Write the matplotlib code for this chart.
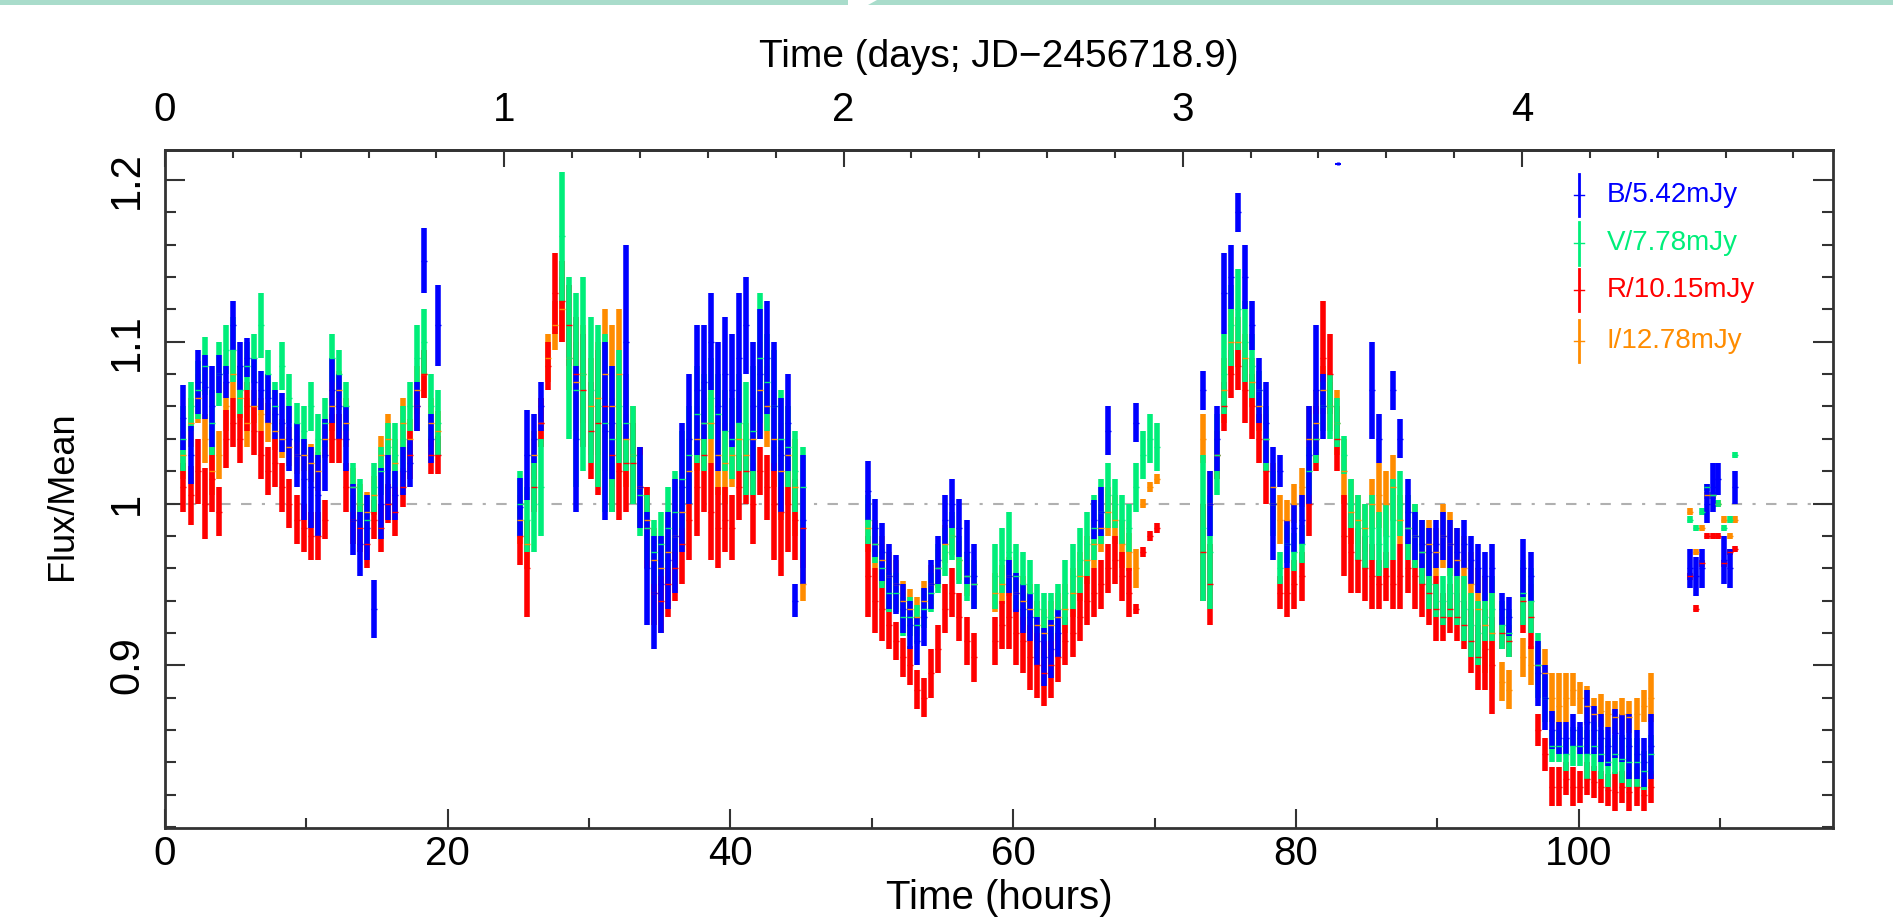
import numpy as np
import matplotlib
matplotlib.use("Agg")
import matplotlib.pyplot as plt
from matplotlib.patches import Polygon
from matplotlib.ticker import MultipleLocator

NA = np.nan

# observing times (hours), one line per night
hours = [
    1.3, 1.8, 2.3, 2.8, 3.3, 3.8, 4.3, 4.8, 5.3, 5.8, 6.3, 6.8, 7.3, 7.8, 8.3, 8.8, 9.3, 9.8, 10.3,
    10.8, 11.3, 11.8, 12.3, 12.8, 13.3, 13.8, 14.3, 14.8, 15.3, 15.8, 16.3, 16.8, 17.3, 17.8, 18.3, 18.8, 19.3,
    25.1, 25.6, 26.1, 26.6, 27.1, 27.6, 28.1, 28.6, 29.1, 29.6, 30.1, 30.6, 31.1, 31.6, 32.1, 32.6, 33.1,
    33.6, 34.1, 34.6, 35.1, 35.6, 36.1, 36.6, 37.1, 37.6, 38.1, 38.6, 39.1, 39.6, 40.1, 40.6, 41.1, 41.6,
    42.1, 42.6, 43.1, 43.6, 44.1, 44.6, 45.1,
    49.7, 50.2, 50.7, 51.2, 51.7, 52.2, 52.7, 53.2, 53.7, 54.2, 54.7, 55.2, 55.7, 56.2, 56.7, 57.2,
    58.7, 59.2, 59.7, 60.2, 60.7, 61.2, 61.7, 62.2, 62.7, 63.2, 63.7, 64.2, 64.7, 65.2, 65.7, 66.2, 66.7,
    67.2, 67.7, 68.2, 68.7, 69.2, 69.7, 70.2,
    73.4, 73.9, 74.4, 74.9, 75.4, 75.9, 76.4, 76.9, 77.4, 77.9, 78.4, 78.9, 79.4, 79.9, 80.4, 80.9, 81.4,
    81.9, 82.4, 82.9, 83.4, 83.9, 84.4, 84.9, 85.4, 85.9, 86.4, 86.9, 87.4, 87.9, 88.4, 88.9, 89.4, 89.9,
    90.4, 90.9, 91.4, 91.9, 92.4, 92.9, 93.4, 93.9, 94.6, 95.1, 96.1, 96.6, 97.1, 97.6, 98.1, 98.6, 99.1,
    99.6, 100.1, 100.6, 101.1, 101.6, 102.1, 102.6, 103.1, 103.6, 104.1, 104.6, 105.1,
    107.9, 108.3, 108.7, 109.1, 109.5, 109.9, 110.3, 110.7, 111.1,
]

# flux / mean, in units of 0.001
b_flux = [
    1053, 1030, 1075, 1072, 1060, 1080, 1075, 1110, 1085, 1090, 1075, 1070, 1065, 1055, 1050, 1040, 1030, 1015, 1010,
    1005, 1030, 1070, 1060, 1040, 990, 975, 985, 935, 1000, 1010, 1005, 1020, 1025, 1060, 1150, 1040, 1110,
    998, 1030, 1040, 1060, NA, NA, NA, NA, 1040, NA, NA, NA, 1045, 1050, NA, 1100, NA, 1010, 960, 945,
    950, 965, 980, 1010, 1040, 1070, 1075, 1100, 1060, 1080, 1070, 1090, 1110, 1060, 1080, 1090, 1060, 1030, 1050, 940, 990,
    1008, 985, 970, 955, 950, 935, 925, 915, 930, 950, 965, 990, 1000, 985, 970, 955, NA, NA, 955, 945,
    935, 930, 915, 905, 910, 920, NA, NA, NA, NA, 990, 995, 1045, NA, NA, NA, 1050, NA, NA, NA,
    1070, 1000, 1040, 1130, 1140, 1180, 1140, 1110, 1070, 1050, 1000, 1020, 975, 985, 990, 1030, 1070, 1060,
    NA, NA, NA, NA, NA, NA, 1070, 1040, NA, 1070, 1040, 995, 980, 975, 970, 975, 980, 975, 970, 975, 965, 960,
    955, 960, 935, 930, 960, 955, 895, 880, 860, 855, 855, 860, 855, 865, 860, 855, 850, 858, 855, 850, 845, 840, 850,
    960, 955, 960, 1000, 1010, 1015, 965, 960, 1010,
]
b_err = [
    20, 18, 20, 20, 25, 12, 10, 15, 15, 12, 15, 12, 15, 15, 18, 20, 20, 25, 25, 25, 22, 20, 20, 20, 22, 20, 20, 18,
    22, 20, 15, 15, 15, 15, 20, 15, 25,
    18, 28, 15, 15, 15, 20, 25, 25, 45, 40, 35, 35, 55, 35, 35, 60, 30, 25, 35, 35, 30, 30, 35, 40, 40, 40, 35, 30,
    40, 35, 35, 40, 30, 40, 40, 35, 40, 35, 30, 10, 40,
    18, 18, 18, 20, 18, 15, 15, 15, 18, 15, 15, 15, 15, 18, 20, 20, 8, 10, 10, 12, 15, 15, 15, 18, 18, 15, 12, 12,
    12, 12, 12, 15, 15, 15, 15, 15, 12, 10, 10, 8,
    12, 20, 20, 25, 20, 12, 20, 15, 20, 25, 35, 10, 15, 15, 15, 30, 40, 20, 5, 5, 5, 5, 5, 5, 30, 15, 5, 12, 12, 20,
    15, 15, 15, 15, 15, 15, 15, 15, 15, 15, 15, 15, 10, 12, 18, 15, 20, 20, 12, 10, 10, 10, 10, 20, 15, 15, 12, 15,
    15, 20, 15, 15, 20,
    12, 12, 12, 12, 15, 10, 15, 12, 10,
]

v_flux = [
    1040, 1060, 1070, 1085, 1050, 1080, 1095, 1095, 1070, 1085, 1090, 1110, 1080, 1060, 1085, 1065, 1050, 1045, 1060,
    1040, 1050, 1090, 1080, 1060, 1010, 1000, 990, 1010, 1020, 1035, 1030, 1040, 1060, 1090, 1100, 1060, 1050,
    1000, 990, 1000, 1010, NA, NA, 1165, 1090, 1070, 1080, 1070, 1060, 1050, 1040, 1060, 1050, 1030, 1005, 985, 970,
    975, 985, 995, 1015, 1030, 1055, 1050, 1065, 1055, 1045, 1040, 1050, 1040, 1045, 1090, 1075, 1060, 1040, 1035, 1020, 1010,
    990, 975, 960, 945, 945, 930, 930, 925, 935, 945, 960, 970, 980, 965, 955, 950, 955, 965, 970, 955,
    950, 945, 935, 930, 930, 935, 945, 955, 965, 975, 985, 995, 1005, 1000, 990, 985, 1010, 1030, 1040, 1035,
    985, 970, 1030, 1080, 1110, 1120, 1100, 1085, 1070, 1040, 1000, 960, 975, 970, 975, 1020, 1040, 1060,
    1060, 1050, 1030, 1000, 985, 980, 985, 975, 980, 990, 1000, 985, 980, 970, 950, 940, 940, 945, 940, 935, 925, 920,
    930, 935, 925, 920, 945, 940, 900, 880, 850, 850, 845, 850, 850, 845, 850, 845, 840, 845, 842, 840, 840, 835, 845,
    990, 985, 995, 1010, 1005, 1000, 985, 990, 1030,
]
v_err = [
    20, 15, 18, 18, 20, 20, 15, 20, 15, 15, 15, 20, 15, 15, 15, 15, 12, 15, 15, 15, 15, 15, 15, 15, 15, 15, 15, 15,
    15, 15, 20, 20, 15, 20, 20, 20, 20,
    20, 20, 30, 30, 20, 20, 40, 50, 60, 60, 45, 50, 55, 45, 35, 30, 30, 25, 20, 20, 20, 25, 25, 30, 30, 30, 30, 25,
    25, 25, 25, 30, 35, 40, 40, 30, 35, 30, 25, 25, 25,
    15, 12, 12, 12, 12, 12, 12, 12, 12, 12, 15, 15, 15, 15, 15, 15, 20, 20, 25, 20, 20, 20, 15, 15, 15, 15, 20, 20,
    20, 20, 20, 20, 20, 15, 15, 15, 15, 15, 15, 15,
    45, 35, 25, 25, 25, 25, 25, 20, 12, 20, 20, 10, 12, 12, 12, 15, 15, 15, 20, 15, 12, 15, 20, 20, 20, 20, 20, 25,
    20, 20, 20, 20, 15, 10, 15, 15, 15, 20, 20, 20, 15, 20, 15, 15, 20, 20, 20, 15, 10, 10, 10, 12, 12, 15, 15, 15,
    15, 12, 15, 15, 15, 12, 12,
    2, 2, 2, 2, 2, 2, 2, 2, 2,
]

r_flux = [
    1010, 1005, 1020, 1000, 1015, 995, 1040, 1050, 1040, 1060, 1045, 1030, 1020, 1025, 1010, 1000, 990, 985, 980,
    980, 990, 1040, 1040, 1010, 990, 985, 975, 990, 985, 1000, 995, 1010, 1030, 1060, 1080, 1030, 1030,
    980, 960, 1010, 1050, 1085, 1130, 1125, 1110, 1080, 1070, 1045, 1050, 1060, 1030, 1020, 1025, 1025, 1010, 985, 945,
    940, 950, 960, 975, 990, 1010, 1030, 995, 985, 990, 985, 1010, 1020, 1000, 1020, 1010, 1000, 995, 1000, 990, 985,
    955, 940, 935, 925, 915, 905, 900, 885, 880, 895, 910, 935, 945, 930, 915, 905, 915, 925, 930, 920,
    915, 905, 900, 895, 900, 905, 915, 920, 930, 940, 945, 950, 960, 965, 955, 945, 935, 970, 980, 985,
    970, 950, 1030, 1060, 1080, 1085, 1070, 1060, 1040, 1020, 1000, 945, 945, 950, 955, 1000, 1040, 1090,
    1080, 1040, 980, 970, 965, 960, 955, 950, 955, 950, 955, 960, 955, 950, 945, 935, 930, 935, 930, 925, 915, 905,
    910, 900, 920, 915, 940, 930, 860, 845, 825, 825, 830, 825, 825, 830, 828, 825, 823, 822, 825, 822, 825, 820, 825,
    955, 935, 963, 980, 980, 980, 963, 970, 972,
]
r_err = [
    15, 18, 20, 22, 20, 15, 18, 15, 15, 15, 15, 15, 15, 15, 15, 15, 15, 15, 15, 15, 12, 15, 15, 15, 15, 15, 15, 12,
    15, 12, 15, 12, 15, 15, 15, 12, 12,
    18, 30, 15, 15, 15, 25, 25, 25, 35, 35, 30, 45, 40, 35, 30, 30, 25, 25, 25, 20, 20, 20, 20, 25, 25, 30, 35, 30,
    25, 20, 20, 20, 20, 25, 15, 20, 35, 40, 30, 25, 25,
    25, 20, 20, 15, 12, 12, 12, 12, 12, 15, 15, 15, 15, 15, 15, 15, 15, 15, 20, 20, 20, 20, 20, 20, 20, 15, 15, 15,
    15, 15, 15, 15, 15, 15, 15, 15, 3, 3, 3, 3,
    30, 25, 15, 15, 15, 15, 20, 20, 15, 20, 10, 10, 15, 15, 15, 20, 20, 35, 25, 20, 25, 25, 20, 20, 20, 15, 15, 15,
    20, 15, 20, 20, 20, 20, 15, 15, 15, 15, 20, 20, 25, 30, 10, 10, 20, 20, 10, 10, 12, 12, 10, 12, 10, 10, 10, 10,
    10, 12, 10, 12, 12, 10, 10,
    2, 2, 2, 2, 2, 2, 2, 2, 2,
]

i_flux = [
    1030, 1050, 1065, 1040, 1020, 1030, 1060, 1080, 1065, 1050, 1060, 1055, 1050, 1045, 1040, 1035, 1030, 1030, 1025,
    1020, 1040, 1060, 1070, 1050, 1010, 1000, 995, 1005, 1030, 1040, 1025, 1050, 1040, 1070, 1080, 1050, 1045,
    990, 975, 1030, 1050, 1090, 1110, 1120, 1090, 1075, 1080, 1060, 1065, 1080, 1060, 1080, 1040, 1030, 1010, 990, 965,
    960, 970, 980, 995, 1020, 1040, 1050, 1050, 1030, 1025, 1030, 1040, 1030, 1040, 1070, 1060, 1040, 1020, 1030, 1010, 950,
    985, 975, 965, 955, 950, 940, 935, 930, 940, 950, 960, 975, 980, 965, 955, 950, 945, 950, 955, 945,
    940, 935, 925, 920, 925, 930, 935, 945, 955, 965, 975, 985, 995, 990, 975, 970, 960, 1000, 1010, 1015,
    1040, 1000, 1030, 1070, 1100, 1100, 1090, 1075, 1060, 1040, 1010, 990, 990, 1000, 1010, 1040, 1050, 1070,
    1060, 1050, 1020, 995, 990, 985, 1000, 1005, 1000, 1010, 990, 985, 980, 970, 975, 970, 980, 975, 965, 960, 950, 935,
    925, 920, 890, 885, 905, 900, 900, 895, 880, 875, 880, 885, 880, 875, 870, 872, 870, 868, 870, 868, 870, 875, 880,
    995, 970, 985, 1005, 1005, 1000, 990, 980, 990,
]
i_err = [
    15, 15, 15, 15, 15, 15, 15, 15, 12, 15, 10, 10, 12, 12, 12, 12, 12, 10, 12, 12, 12, 15, 12, 15, 12, 12, 12, 12,
    12, 15, 15, 15, 12, 15, 15, 15, 12,
    15, 15, 15, 15, 15, 15, 20, 20, 25, 30, 30, 35, 40, 50, 40, 30, 30, 25, 20, 20, 20, 20, 20, 20, 20, 20, 25, 25,
    25, 25, 20, 20, 20, 25, 30, 25, 30, 30, 30, 30, 10,
    15, 15, 15, 15, 15, 12, 12, 12, 12, 12, 12, 12, 12, 12, 12, 12, 12, 12, 12, 12, 15, 15, 15, 15, 15, 15, 15, 15,
    15, 15, 15, 15, 15, 15, 15, 12, 12, 3, 3, 3,
    15, 20, 15, 20, 20, 15, 15, 15, 15, 15, 15, 15, 12, 12, 12, 20, 20, 15, 15, 20, 20, 20, 15, 15, 15, 20, 20, 20,
    15, 20, 20, 20, 15, 15, 20, 20, 20, 20, 20, 25, 30, 35, 12, 12, 12, 12, 12, 15, 15, 20, 15, 10, 10, 12, 10, 10,
    8, 10, 10, 10, 10, 10, 15,
    2, 2, 2, 2, 2, 2, 2, 2, 2,
]

# lone B point near the top of the frame
b_extra_hours = [83.0]
b_extra_flux = [1210]

labels = ["B/5.42mJy", "V/7.78mJy", "R/10.15mJy", "I/12.78mJy"]
colors = ["#0000ff", "#00ee7a", "#ff0000", "#ff8c00"]

plt.rcParams['font.family'] = ['Liberation Sans', 'DejaVu Sans']

fig = plt.figure(figsize=(18.93, 9.22), dpi=100)

# light teal strip along the top edge
band_h = 5 / 922
fig.patches.append(Polygon([[0, 1], [848 / 1893, 1], [848 / 1893, 1 - band_h], [0, 1 - band_h]],
                           closed=True, transform=fig.transFigure, facecolor="#a9dccb", edgecolor="none"))
fig.patches.append(Polygon([[877 / 1893, 1], [1, 1], [1, 1 - band_h], [868 / 1893, 1 - band_h]],
                           closed=True, transform=fig.transFigure, facecolor="#a9dccb", edgecolor="none"))

ax = fig.add_axes([0.0872, 0.102, 0.8811, 0.7354])

ax.axhline(1.0, color="#b0b0b0", lw=1.5, ls=(0, (5, 5, 5, 5, 1.5, 5)), zorder=0)

t = np.array(hours)
bands = [(i_flux, i_err, colors[3]), (r_flux, r_err, colors[2]),
         (v_flux, v_err, colors[1]), (b_flux, b_err, colors[0])]
for flux, err, col in bands:
    f = np.array(flux, dtype=float) / 1000
    e = np.array(err, dtype=float) / 1000
    ax.errorbar(t, f, yerr=e, fmt='_', ms=4, mew=1, color=col, ecolor=col,
                elinewidth=4.0, capsize=0)
ax.errorbar(b_extra_hours, np.array(b_extra_flux) / 1000, yerr=0.001, fmt='_', ms=5, mew=1.5,
            color=colors[0], ecolor=colors[0], elinewidth=2, capsize=0)

ax.set_xlim(0, 118)
ax.set_ylim(0.7995, 1.2185)

ax.set_xticks([0, 20, 40, 60, 80, 100])
ax.xaxis.set_minor_locator(MultipleLocator(10))
ax.set_yticks([0.9, 1.0, 1.1, 1.2], labels=["0.9", "1", "1.1", "1.2"])
ax.yaxis.set_minor_locator(MultipleLocator(0.02))

ax.tick_params(which='both', direction='in', top=False, right=True, width=1.5, colors="#333333",
               labelcolor="black")
ax.tick_params(axis='x', which='major', length=13.5, labelsize=29, pad=5)
ax.tick_params(axis='x', which='minor', length=7)
ax.tick_params(axis='y', which='major', length=14.5, labelsize=30, pad=13, labelrotation=90)
ax.tick_params(axis='y', which='minor', length=8)
for lbl in ax.get_yticklabels():
    lbl.set_va('center')

for s in ax.spines.values():
    s.set_linewidth(2)
    s.set_color("#333333")

sec = ax.secondary_xaxis('top', functions=(lambda h: h / 24, lambda d: d * 24))
sec.set_xticks([0, 1, 2, 3, 4])
sec.xaxis.set_minor_locator(MultipleLocator(0.2))
sec.tick_params(which='both', direction='in', width=1.5, colors="#333333", labelcolor="black")
sec.tick_params(which='major', length=12, labelsize=29, pad=15)
sec.tick_params(which='minor', length=6)
sec.spines['top'].set_linewidth(2)
sec.spines['top'].set_color("#333333")

ax.set_xlabel("Time (hours)", fontsize=29)
ax.xaxis.set_label_coords(0.5, -0.075)
ax.set_ylabel("Flux/Mean", fontsize=26)
ax.yaxis.set_label_coords(-0.051, 0.49)
ax.text(0.5, 1.122, "Time (days; JD\u22122456718.9)", transform=ax.transAxes,
        ha='center', va='baseline', fontsize=28)

# legend drawn by hand: short vertical bar + coloured label
legend_y = [0.933, 0.862, 0.793, 0.718]
for y, lab, col in zip(legend_y, labels, colors):
    ax.plot([0.8477, 0.8477], [y - 0.031, y + 0.031], transform=ax.transAxes, color=col, lw=2)
    ax.plot([0.8447, 0.8507], [y, y], transform=ax.transAxes, color=col, lw=1)
    ax.text(0.8645, y, lab, transform=ax.transAxes, color=col, fontsize=20, va='center', ha='left')

fig.savefig("out.png", dpi=100)
